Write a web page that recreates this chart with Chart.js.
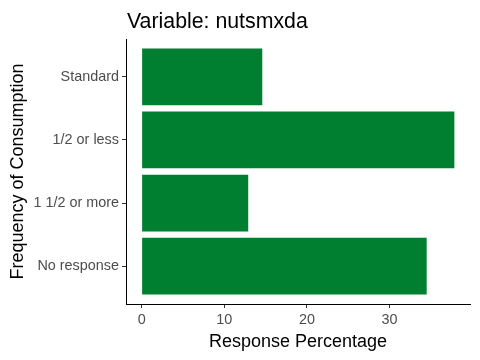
<!DOCTYPE html>
<html>
<head>
<meta charset="utf-8">
<script src="https://cdn.jsdelivr.net/npm/chart.js@4"></script>
<style>
  html, body { margin: 0; padding: 0; background: #fff; }
  #wrap { width: 480px; height: 360px; }
</style>
</head>
<body>
<div id="wrap"><canvas id="chart" width="480" height="360"></canvas></div>
<script>
// categories from bottom to top
const categories = ['No response', '1 1/2 or more', '1/2 or less', 'Standard'];
const percentages = [34.5, 12.9, 37.85, 14.6];
const xTicks = [0, 10, 20, 30];

const FONT = '"Liberation Sans", Arial, sans-serif';

// title drawn at left edge of the plot area
const titlePlugin = {
    id: 'plotTitle',
    afterDraw(chart) {
        const ctx = chart.ctx;
        ctx.save();
        ctx.font = '21.3px ' + FONT;
        ctx.fillStyle = '#000';
        ctx.textBaseline = 'alphabetic';
        ctx.textAlign = 'left';
        ctx.fillText('Variable: nutsmxda', chart.chartArea.left + 1, 27.5);
        ctx.restore();
    }
};

const maxVal = Math.max(...percentages);

new Chart(document.getElementById('chart'), {
    type: 'bar',
    data: {
        labels: categories,
        datasets: [{
            data: percentages.map((v, i) => ({ x: v, y: i + 1 })),
            backgroundColor: '#017f31',
            borderWidth: 0,
            barPercentage: 0.9,
            categoryPercentage: 1
        }]
    },
    plugins: [titlePlugin],
    options: {
        indexAxis: 'y',
        responsive: false,
        animation: false,
        layout: { padding: { top: 39, right: 10, left: 0, bottom: 0 } },
        plugins: {
            legend: { display: false },
            tooltip: { enabled: false }
        },
        scales: {
            x: {
                type: 'linear',
                min: -0.05 * maxVal,
                max: maxVal * 1.05,
                afterBuildTicks: scale => {
                    scale.ticks = xTicks.map(v => ({ value: v }));
                },
                afterFit: scale => { scale.height = 56; },
                grid: {
                    drawOnChartArea: false,
                    drawTicks: true,
                    tickLength: 4,
                    tickColor: '#333'
                },
                border: { display: true, color: '#000', width: 1 },
                ticks: {
                    color: '#4d4d4d',
                    font: { family: FONT, size: 14.4 },
                    padding: 3,
                    maxRotation: 0
                },
                title: {
                    display: true,
                    text: 'Response Percentage',
                    color: '#000',
                    font: { family: FONT, size: 18 },
                    padding: { top: 0, bottom: 7 }
                }
            },
            y: {
                type: 'linear',
                offset: false,
                min: 0.4,
                max: 4.6,
                afterBuildTicks: scale => {
                    scale.ticks = categories.map((c, i) => ({ value: i + 1 }));
                },
                afterFit: scale => { scale.width = 126; },
                grid: {
                    offset: false,
                    drawOnChartArea: false,
                    drawTicks: true,
                    tickLength: 4,
                    tickColor: '#333'
                },
                border: { display: true, color: '#000', width: 1 },
                ticks: {
                    color: '#4d4d4d',
                    font: { family: FONT, size: 14.4 },
                    padding: 3,
                    callback: v => categories[v - 1]
                },
                title: {
                    display: true,
                    text: 'Frequency of Consumption',
                    color: '#000',
                    font: { family: FONT, size: 18 },
                    padding: { top: 7, bottom: 0 }
                }
            }
        }
    }
});
</script>
</body>
</html>
